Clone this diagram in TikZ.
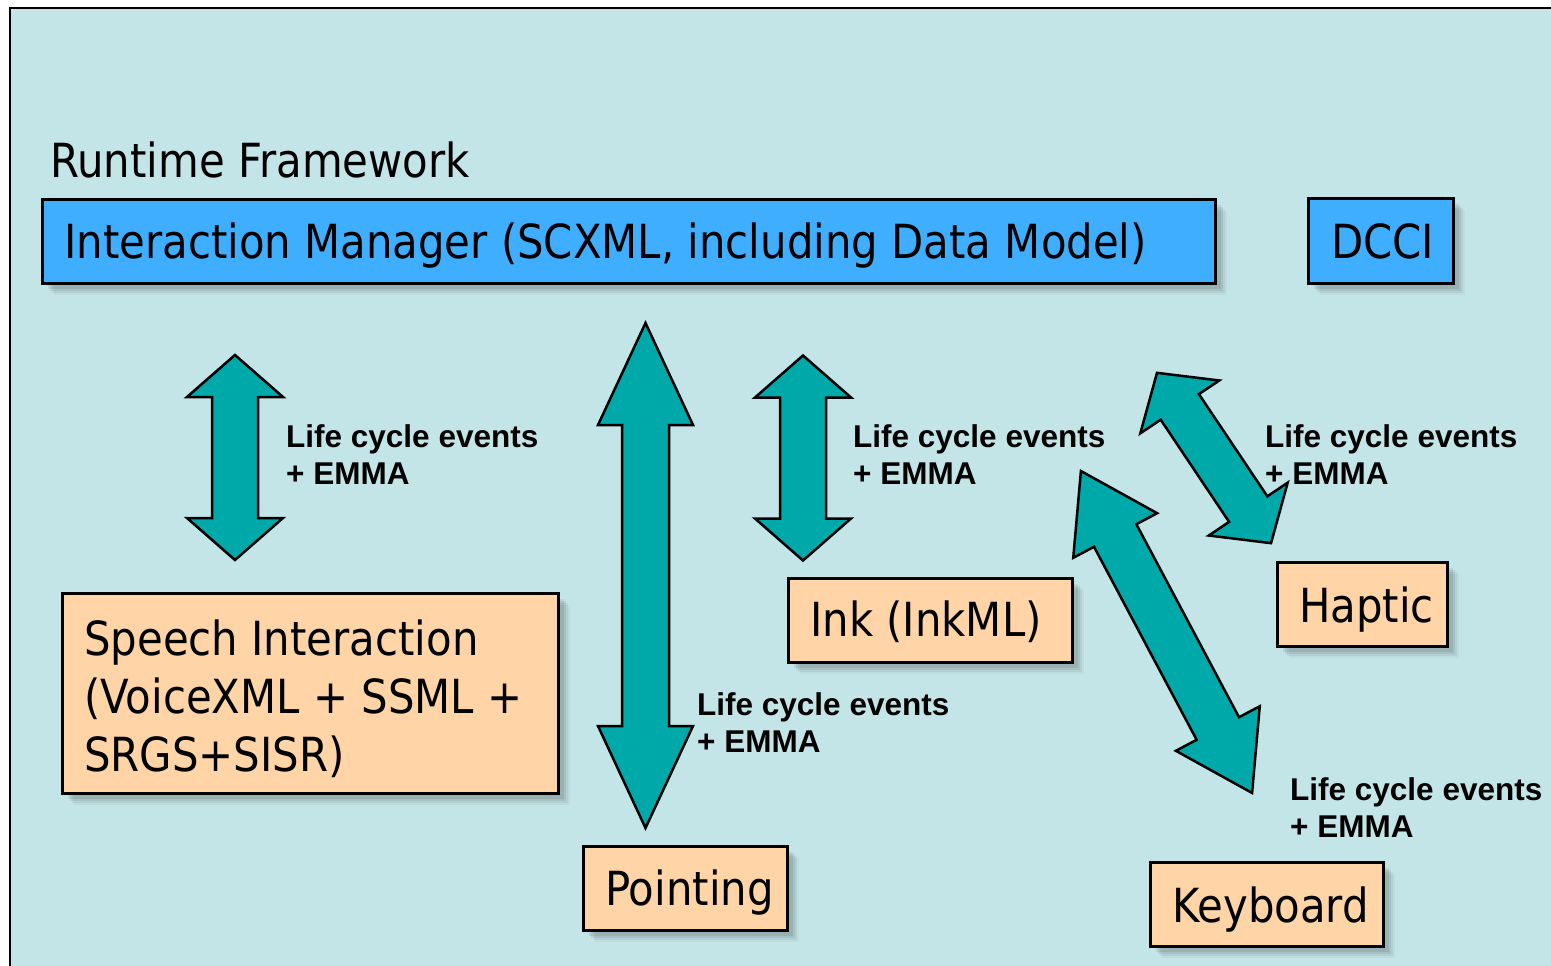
\documentclass[tikz,border=0pt]{standalone}
\usepackage{fontspec}
\setmainfont{DejaVu Sans}[FakeStretch=0.89]
\newfontfamily\lblfont{Liberation Sans}
\usetikzlibrary{shadows}
\definecolor{bgc}{HTML}{C4E5E7}
\definecolor{imblue}{HTML}{40AEFF}
\definecolor{modorange}{HTML}{FFD5A8}
\definecolor{arrteal}{HTML}{00A9A9}
\tikzset{
  shd/.style={
    general shadow={shadow xshift=12pt, shadow yshift=-12pt, fill=black, opacity=0.04},
    general shadow={shadow xshift=10pt, shadow yshift=-10pt, fill=black, opacity=0.05},
    general shadow={shadow xshift=8pt, shadow yshift=-8pt, fill=black, opacity=0.07},
    general shadow={shadow xshift=6pt, shadow yshift=-6pt, fill=black, opacity=0.08}},
  bluebox/.style={draw=black, line width=2.5pt, fill=imblue, shd, inner sep=0pt, anchor=north west},
  orbox/.style={draw=black, line width=2.5pt, fill=modorange, shd, inner sep=0pt, anchor=north west},
  maintext/.style={inner sep=0pt, anchor=base west, font=\fontsize{47}{58}\selectfont, align=left},
  lbl/.style={inner sep=0pt, anchor=base west, font=\lblfont\bfseries\fontsize{31.5}{37}\selectfont, align=left},
  arrowsty/.style={draw=black, line width=2.5pt, fill=arrteal, line join=miter}
}
\newcommand\dblarr[8]{%
  \begin{scope}[shift={(#2,#3)}, rotate=#4]
    \draw[arrowsty] (0,{-#5}) coordinate (#1-a) -- ({#7},{-#5+#6}) -- ({#8},{-#5+#6}) -- ({#8},{#5-#6})
      -- ({#7},{#5-#6}) -- (0,{#5}) coordinate (#1-b) -- ({-#7},{#5-#6}) -- ({-#8},{#5-#6})
      -- ({-#8},{-#5+#6}) -- ({-#7},{-#5+#6}) -- cycle;
  \end{scope}}
\begin{document}
\begin{tikzpicture}[x=1pt,y=-1pt]
\useasboundingbox (0,0) rectangle (1551,966);
% frame
\draw[line width=2.5pt, fill=bgc] (10,8) rectangle (1600,1000);
% title
\node[maintext] (rt) at (50,177) {Runtime Framework};
% top boxes
\node[bluebox, minimum width=1173pt, minimum height=84pt] (im) at (41,198) {};
\node[maintext] (imt) at (64,258) {Interaction Manager (SCXML, including Data Model)};
\node[bluebox, minimum width=145pt, minimum height=85pt] (dcci) at (1307,197) {};
\node[maintext] (dccit) at (1331,258) {DCCI};
% modality boxes
\node[orbox, minimum width=496pt, minimum height=200pt] (sp) at (61,592) {};
\node[maintext] (spt) at (84,771) {Speech Interaction\\(VoiceXML + SSML +\\SRGS+SISR)};
\node[orbox, minimum width=284pt, minimum height=84pt] (ink) at (787,577) {};
\node[maintext] (inkt) at (810,636) {Ink (InkML)};
\node[orbox, minimum width=170pt, minimum height=84pt] (hap) at (1276,561) {};
\node[maintext] (hapt) at (1299,622) {Haptic};
\node[orbox, minimum width=204pt, minimum height=84pt] (pt) at (582,845) {};
\node[maintext] (ptt) at (605,905) {Pointing};
\node[orbox, minimum width=233pt, minimum height=84pt] (kb) at (1149,861) {};
\node[maintext] (kbt) at (1172,922) {Keyboard};
% arrows
\dblarr{a1}{235}{457.5}{0}{102.5}{42}{48}{23}
\dblarr{a2}{645.5}{575.5}{0}{252.5}{102}{47.5}{23.5}
\dblarr{a3}{803}{458}{0}{102.5}{42}{48}{23}
\dblarr{a4}{1214}{458}{33.8}{102.5}{41}{47.5}{23}
\dblarr{a5}{1166.5}{632}{28}{182.3}{73}{47.5}{24}
% labels
\node[lbl] (l1) at (286,484) {Life cycle events\\+ EMMA};
\node[lbl] (l2) at (697,752) {Life cycle events\\+ EMMA};
\node[lbl] (l3) at (853,484) {Life cycle events\\+ EMMA};
\node[lbl] (l4) at (1265,484) {Life cycle events\\+ EMMA};
\node[lbl] (l5) at (1290,837) {Life cycle events\\+ EMMA};
\end{tikzpicture}
\end{document}
